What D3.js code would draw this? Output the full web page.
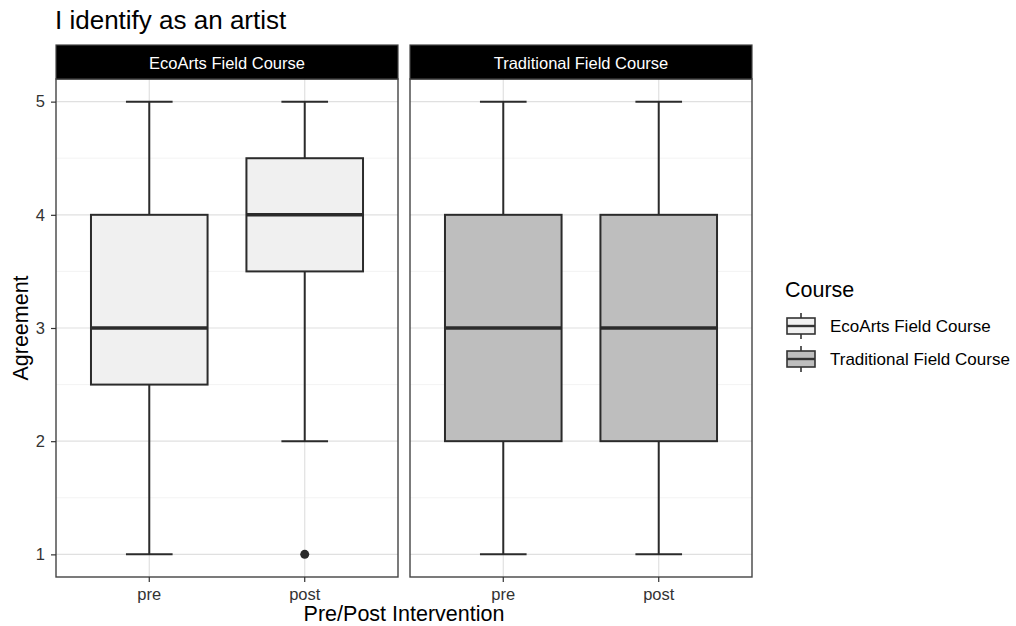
<!DOCTYPE html>
<html>
<head>
<meta charset="utf-8">
<script src="https://cdn.jsdelivr.net/npm/d3@7"></script>
<style>
  html, body { margin: 0; padding: 0; background: #fff; }
  svg { display: block; font-family: "Liberation Sans", Arial, sans-serif; }
</style>
</head>
<body>
<svg id="chart" width="1016" height="626"></svg>
<script>
// Facets, categories and five-number summaries (Agreement scale 1–5)
const courses = ["EcoArts Field Course", "Traditional Field Course"];
const phases = ["pre", "post"];
const lowerWhisker = [[1, 2], [1, 1]];
const q1 = [[2.5, 3.5], [2, 2]];
const median = [[3, 4], [3, 3]];
const q3 = [[4, 4.5], [4, 4]];
const upperWhisker = [[5, 5], [5, 5]];
const outliers = [[[], [1]], [[], []]];
const yTicks = [1, 2, 3, 4, 5];
const yMinor = [1.5, 2.5, 3.5, 4.5];
const fills = ["#f0f0f0", "#bebebe"];

const svg = d3.select("#chart");
const panelTop = 79, panelBottom = 577;
const panelX = [[56, 398], [410, 752]];
const stripTop = 45;
const tickFont = 16.5, titleFont = 21.5;

const y = d3.scaleLinear().domain([0.8, 5.2]).range([panelBottom, panelTop]);

// Title
svg.append("text").attr("x", 55).attr("y", 29)
  .attr("font-size", 26).attr("fill", "#000").text("I identify as an artist");

courses.forEach((course, ci) => {
  const [x0, x1] = panelX[ci];
  const x = d3.scaleBand().domain(phases).range([x0, x1]);
  // discrete expansion: 0.6 units on each side
  const unit = (x1 - x0) / 2.2;
  const cx = p => x0 + (0.6 + phases.indexOf(p)) * unit;

  const g = svg.append("g");
  g.append("rect").attr("x", x0).attr("y", panelTop)
    .attr("width", x1 - x0).attr("height", panelBottom - panelTop).attr("fill", "#fff");
  // minor grid
  g.selectAll(".minor").data(yMinor).join("line")
    .attr("x1", x0).attr("x2", x1).attr("y1", d => y(d)).attr("y2", d => y(d))
    .attr("stroke", "#f0f0f0").attr("stroke-width", 0.8);
  // major grid
  g.selectAll(".major").data(yTicks).join("line")
    .attr("x1", x0).attr("x2", x1).attr("y1", d => y(d)).attr("y2", d => y(d))
    .attr("stroke", "#e0e0e0").attr("stroke-width", 1.2);
  g.selectAll(".vmajor").data(phases).join("line")
    .attr("x1", d => cx(d)).attr("x2", d => cx(d)).attr("y1", panelTop).attr("y2", panelBottom)
    .attr("stroke", "#e0e0e0").attr("stroke-width", 1.2);

  // boxplots
  phases.forEach((p, pi) => {
    const c = cx(p);
    const bw = unit * 0.75, cw = unit * 0.3;
    const stroke = "#2b2b2b", sw = 2;
    g.append("line").attr("x1", c).attr("x2", c)
      .attr("y1", y(upperWhisker[ci][pi])).attr("y2", y(q3[ci][pi]))
      .attr("stroke", stroke).attr("stroke-width", sw);
    g.append("line").attr("x1", c).attr("x2", c)
      .attr("y1", y(q1[ci][pi])).attr("y2", y(lowerWhisker[ci][pi]))
      .attr("stroke", stroke).attr("stroke-width", sw);
    [upperWhisker[ci][pi], lowerWhisker[ci][pi]].forEach(v => {
      g.append("line").attr("x1", c - cw / 2).attr("x2", c + cw / 2)
        .attr("y1", y(v)).attr("y2", y(v))
        .attr("stroke", stroke).attr("stroke-width", sw);
    });
    g.append("rect").attr("x", c - bw / 2).attr("y", y(q3[ci][pi]))
      .attr("width", bw).attr("height", y(q1[ci][pi]) - y(q3[ci][pi]))
      .attr("fill", fills[ci]).attr("stroke", stroke).attr("stroke-width", sw);
    g.append("line").attr("x1", c - bw / 2).attr("x2", c + bw / 2)
      .attr("y1", y(median[ci][pi])).attr("y2", y(median[ci][pi]))
      .attr("stroke", stroke).attr("stroke-width", 3.6);
    outliers[ci][pi].forEach(v => {
      g.append("circle").attr("cx", c).attr("cy", y(v)).attr("r", 4.5).attr("fill", "#2b2b2b");
    });
  });

  // panel border
  g.append("rect").attr("x", x0).attr("y", panelTop)
    .attr("width", x1 - x0).attr("height", panelBottom - panelTop)
    .attr("fill", "none").attr("stroke", "#444").attr("stroke-width", 1.4);
  // strip
  g.append("rect").attr("x", x0).attr("y", stripTop)
    .attr("width", x1 - x0).attr("height", panelTop - stripTop)
    .attr("fill", "#000").attr("stroke", "#444").attr("stroke-width", 1.2);
  g.append("text").attr("x", (x0 + x1) / 2).attr("y", (stripTop + panelTop) / 2 + 1)
    .attr("dy", "0.36em").attr("text-anchor", "middle")
    .attr("font-size", tickFont).attr("fill", "#fff").text(course);

  // x axis
  const xAxis = d3.axisBottom(x).tickSize(5).tickPadding(6);
  const ax = svg.append("g").attr("transform", `translate(0,${panelBottom})`).call(xAxis);
  ax.select(".domain").remove();
  ax.selectAll(".tick").attr("transform", d => `translate(${cx(d)},0)`);
  ax.selectAll(".tick line").attr("stroke", "#333").attr("stroke-width", 1.2);
  ax.selectAll(".tick text").attr("font-size", tickFont).attr("fill", "#333")
    .attr("font-family", "Liberation Sans, Arial, sans-serif");
});

// y axis
const yAxis = d3.axisLeft(y).tickValues(yTicks).tickSize(5).tickPadding(6).tickFormat(d3.format("d"));
const ay = svg.append("g").attr("transform", `translate(${panelX[0][0]},0)`).call(yAxis);
ay.select(".domain").remove();
ay.selectAll(".tick line").attr("stroke", "#333").attr("stroke-width", 1.2);
ay.selectAll(".tick text").attr("font-size", tickFont).attr("fill", "#333")
  .attr("font-family", "Liberation Sans, Arial, sans-serif");

// axis titles
svg.append("text").attr("x", 404).attr("y", 621)
  .attr("text-anchor", "middle").attr("font-size", titleFont).attr("fill", "#000")
  .text("Pre/Post Intervention");
svg.append("text").attr("transform", `translate(28,${(panelTop + panelBottom) / 2}) rotate(-90)`)
  .attr("text-anchor", "middle").attr("font-size", titleFont).attr("fill", "#000")
  .text("Agreement");

// legend
const lg = svg.append("g");
lg.append("text").attr("x", 785).attr("y", 297).attr("font-size", titleFont).attr("fill", "#000").text("Course");
courses.forEach((course, i) => {
  const mid = 326 + i * 33;   // vertical centre of key
  const kx = 787, kw = 28;
  const k = lg.append("g");
  k.append("line").attr("x1", kx + kw / 2).attr("x2", kx + kw / 2)
    .attr("y1", mid - 13).attr("y2", mid + 13).attr("stroke", "#333").attr("stroke-width", 1.6);
  k.append("rect").attr("x", kx).attr("y", mid - 8).attr("width", kw).attr("height", 16)
    .attr("fill", fills[i]).attr("stroke", "#333").attr("stroke-width", 1.6);
  k.append("line").attr("x1", kx).attr("x2", kx + kw)
    .attr("y1", mid).attr("y2", mid).attr("stroke", "#333").attr("stroke-width", 2.4);
  lg.append("text").attr("x", 830).attr("y", mid).attr("dy", "0.36em")
    .attr("font-size", 17).attr("fill", "#000").text(course);
});
</script>
</body>
</html>
